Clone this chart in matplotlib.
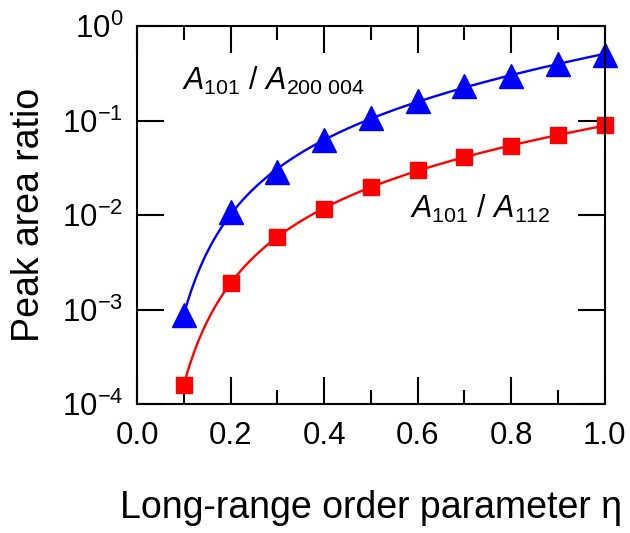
import numpy as np
import matplotlib
matplotlib.use('Agg')
import matplotlib.pyplot as plt
import matplotlib.ticker as mtick

plt.rcParams['font.family'] = ['Liberation Sans', 'DejaVu Sans']
plt.rcParams['mathtext.fontset'] = 'custom'
plt.rcParams['mathtext.rm'] = 'Liberation Sans'
plt.rcParams['mathtext.it'] = 'Liberation Sans:italic'

# data
eta = [0.1, 0.2, 0.3, 0.4, 0.5, 0.6, 0.7, 0.8, 0.9, 1.0]
ratio_200_004 = [8.7e-4, 0.0108, 0.0285, 0.062, 0.106, 0.161, 0.23, 0.30, 0.40, 0.50]
ratio_112 = [1.6e-4, 1.9e-3, 5.9e-3, 0.0116, 0.0198, 0.030, 0.041, 0.054, 0.070, 0.089]

ytick_vals = [1e-4, 1e-3, 1e-2, 1e-1, 1e0]
ytick_labels = ['10$^{-4}$', '10$^{-3}$', '10$^{-2}$', '10$^{-1}$', '10$^{0}$']
xtick_vals = [0.0, 0.2, 0.4, 0.6, 0.8, 1.0]


def smooth_fit(x, y):
    # fit curve drawn through the points (cubic in log-log space)
    lx, ly = np.log10(x), np.log10(y)
    p = np.polyfit(lx, ly, 3)
    xs = np.linspace(min(x), max(x), 200)
    return xs, 10 ** np.polyval(p, np.log10(xs))


fig = plt.figure(figsize=(6.3, 5.33), dpi=100)
ax = fig.add_axes([0.2175, 0.242, 0.7425, 0.709])

xs, ys = smooth_fit(eta, ratio_200_004)
ax.plot(xs, ys, color='blue', lw=1.7)
ax.plot(eta, ratio_200_004, ls='none', marker='^', ms=17, color='blue', clip_on=False)

xs, ys = smooth_fit(eta, ratio_112)
ax.plot(xs, ys, color='red', lw=1.7)
ax.plot(eta, ratio_112, ls='none', marker='s', ms=12, color='red', clip_on=False)

ax.set_yscale('log')
ax.set_xlim(0, 1.0)
ax.set_ylim(1e-4, 1e0)
ax.set_yticks(ytick_vals)
ax.set_yticklabels(ytick_labels)
ax.yaxis.set_minor_locator(mtick.NullLocator())
ax.set_xticks(xtick_vals)
ax.set_xticklabels([f'{v:.1f}' for v in xtick_vals])
ax.xaxis.set_minor_locator(mtick.MultipleLocator(0.1))

ax.tick_params(which='both', direction='in', top=True, right=True, width=1.5,
               labelsize=22.5)
ax.tick_params(axis='x', pad=12)
ax.tick_params(axis='y', pad=10)
ax.tick_params(which='major', length=19.5)
ax.tick_params(which='minor', length=10)
for spine in ax.spines.values():
    spine.set_linewidth(1.5)

ax.set_xlabel('Long-range order parameter η', fontsize=27, labelpad=28)
ax.set_ylabel('Peak area ratio', fontsize=27, labelpad=11)

ax.text(0.096, 0.831, r'$A_{101}\ /\ A_{200\ 004}$', transform=ax.transAxes,
        fontsize=22, va='baseline')
ax.text(0.583, 0.492, r'$A_{101}\ /\ A_{112}$', transform=ax.transAxes,
        fontsize=22, va='baseline')

fig.savefig('out.png', dpi=100)
